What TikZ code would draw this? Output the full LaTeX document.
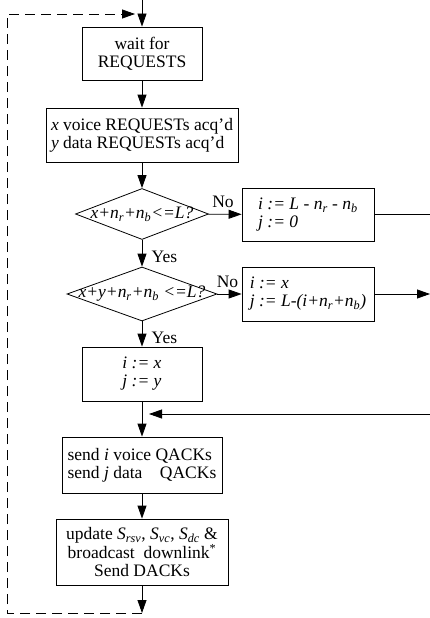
\documentclass[tikz,border=0pt]{standalone}
\usepackage{fontspec}
\setmainfont{Liberation Serif}
\usepackage{tikz}
\usetikzlibrary{shapes.geometric, arrows.meta, positioning, calc}

\newcommand{\sub}[1]{\textsubscript{\textit{#1}}}

\begin{document}
\begin{tikzpicture}[
  x=1pt, y=-1pt,
  font=\fontsize{17.5}{18}\selectfont,
  block/.style={rectangle, draw, line width=0.8pt, inner sep=2pt,
                minimum height=53pt, align=center},
  decision/.style={diamond, draw, line width=0.8pt, inner sep=0pt},
  cond/.style={inner sep=0pt, font=\fontsize{17.5}{18}\selectfont\itshape},
  flow/.style={-{Triangle[length=13pt, width=9pt]}, line width=0.8pt},
  plain/.style={line width=0.8pt},
  loopback/.style={-{Triangle[length=13pt, width=9pt]}, line width=0.8pt,
                   dash pattern=on 10pt off 6pt},
]
\useasboundingbox (0,0) rectangle (430,618);

% Blocks
\node[block, minimum width=120pt] (wait) at (142,53.5) {wait for\\REQUESTS};
\node[block, minimum width=192pt, minimum height=54pt, align=left] (acq) at (142,135)
  {\textit{x} voice REQUESTs acq'd\\\textit{y} data REQUESTs acq'd};

% Decisions
\node[decision, minimum width=133pt, minimum height=51pt] (full) at (142,214) {};
\node[cond] at (full) {x+n\sub{r}+n\sub{b}<=L?};
\node[decision, minimum width=150pt, minimum height=54pt] (part) at (142,294) {};
\node[cond] at (part) {x+y+n\sub{r}+n\sub{b} <=L?};

% Assignments
\node[block, minimum width=132pt, align=left, font=\fontsize{17.5}{18}\selectfont\itshape] (cap) at (308,214.5)
  {i := L - n\sub{r} - n\sub{b}\\j := 0};
\node[block, minimum width=132pt, minimum height=54pt, align=left, font=\fontsize{17.5}{18}\selectfont\itshape] (trim) at (308,294)
  {i := x\\j := L-(i+n\sub{r}+n\sub{b})};
\node[block, minimum width=120pt, minimum height=54pt, font=\fontsize{17.5}{18}\selectfont\itshape] (assign) at (142,374)
  {i := x\\j := y};

% Replies
\node[block, minimum width=160pt, minimum height=56pt, align=left] (qack) at (142,465)
  {send \textit{i} voice QACKs\\send \textit{j} data\hspace{0.5em}\ \ QACKs};
\node[block, minimum width=172pt, minimum height=66pt] (update) at (142,552)
  {update \textit{S}\sub{rsv}, \textit{S}\sub{vc}, \textit{S}\sub{dc} \&\\
   broadcast\ \ downlink\textsuperscript{*}\\Send DACKs};

% Free ends
\coordinate (top) at (142,0);
\coordinate (bot) at (142,613);
\coordinate (ret) at (135,14);
\coordinate (outcap) at (430,214.5);
\coordinate (outtrim) at (430,294);
\coordinate (inback) at (430,414);
\coordinate (join) at (149,414);

% Connectors
\draw[flow] (top) -- (wait);
\draw[flow] (wait) -- (acq);
\draw[flow] (acq) -- (full);
\draw[flow] (full) -- node[above, xshift=-2pt, yshift=3pt] {No} (cap);
\draw[flow] (full) -- node[right, xshift=6pt, yshift=-4pt] {Yes} (part);
\draw[flow] (part) -- node[above, xshift=-2pt, yshift=3pt] {No} (trim);
\draw[flow] (part) -- node[right, xshift=6pt, yshift=-4pt] {Yes} (assign);
\draw[plain] (cap) -- (outcap);
\draw[flow] (trim) -- (outtrim);
\draw[flow] (inback) -- (join);
\draw[flow] (assign) -- (qack);
\draw[flow] (qack) -- (update);
\draw[flow] (update) -- (bot);

% Loop back to the top
\draw[loopback] (bot) -| (7,14) -- (ret);

\end{tikzpicture}
\end{document}
